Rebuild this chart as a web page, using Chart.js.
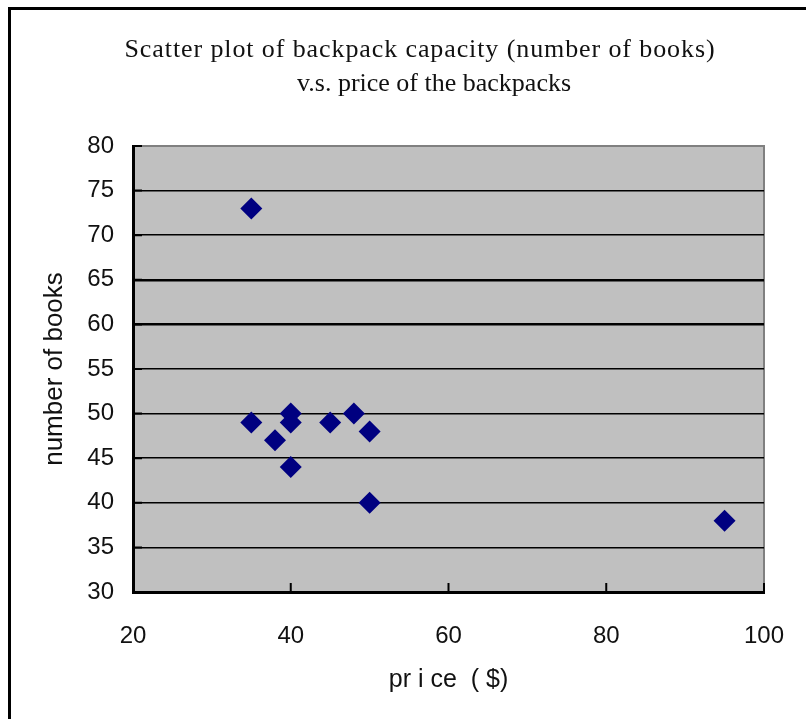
<!DOCTYPE html>
<html>
<head>
<meta charset="utf-8">
<script src="https://cdn.jsdelivr.net/npm/chart.js@4.4.1/dist/chart.umd.min.js"></script>
<style>
    html, body { margin: 0; padding: 0; background: #fff; overflow: hidden; }
    .frame {
        position: absolute; left: 8px; top: 7px; width: 900px; height: 800px;
        border-top: 3px solid #000; border-left: 3px solid #000;
    }
    #myChart { position: absolute; left: 0; top: 0; }
</style>
</head>
<body>
<div class="frame"></div>
<canvas id="myChart" width="806" height="719"></canvas>
<script>
// backpack data
const prices = [35, 35, 38, 40, 40, 40, 45, 48, 50, 50, 95];
const books = [73, 49, 47, 50, 49, 44, 49, 50, 48, 40, 38];

const xTicks = [20, 40, 60, 80, 100];
const yTicks = [30, 35, 40, 45, 50, 55, 60, 65, 70, 75, 80];

const titleLines = [
    'Scatter plot of backpack capacity (number of books)',
    'v.s. price of the backpacks'
];

const points = prices.map((p, i) => ({ x: p, y: books[i] }));

// grey plot background + grey top/right edge
const plotBackground = {
    id: 'plotBackground',
    beforeDraw(chart) {
        const { ctx, chartArea: a } = chart;
        ctx.save();
        ctx.fillStyle = '#c0c0c0';
        ctx.fillRect(a.left, a.top, a.right - a.left, a.bottom - a.top);
        ctx.strokeStyle = '#808080';
        ctx.lineWidth = 2;
        ctx.beginPath();
        ctx.moveTo(a.left, a.top);
        ctx.lineTo(a.right, a.top);
        ctx.lineTo(a.right, a.bottom);
        ctx.stroke();
        ctx.restore();
    }
};

// small tick marks pointing into the plot
const innerTicks = {
    id: 'innerTicks',
    afterDatasetsDraw(chart) {
        const { ctx, chartArea: a, scales } = chart;
        ctx.save();
        ctx.strokeStyle = '#000';
        ctx.lineWidth = 2;
        ctx.beginPath();
        xTicks.forEach(v => {
            const px = scales.x.getPixelForValue(v);
            ctx.moveTo(px, a.bottom);
            ctx.lineTo(px, a.bottom - 9);
        });
        yTicks.forEach(v => {
            const py = scales.y.getPixelForValue(v);
            ctx.moveTo(a.left, py);
            ctx.lineTo(a.left + 9, py);
        });
        ctx.stroke();
        ctx.restore();
    }
};

// two line serif title
const titleText = {
    id: 'titleText',
    afterDraw(chart) {
        const ctx = chart.ctx;
        ctx.save();
        ctx.fillStyle = '#111';
        ctx.font = '26px "Liberation Serif"';
        ctx.textAlign = 'center';
        ctx.textBaseline = 'alphabetic';
        ctx.letterSpacing = '0.9px';
        ctx.fillText(titleLines[0], 420, 57);
        ctx.letterSpacing = '0px';
        ctx.fillText(titleLines[1], 434, 91);
        ctx.restore();
    }
};

const ctx = document.getElementById('myChart').getContext('2d');
const myChart = new Chart(ctx, {
    type: 'scatter',
    data: {
        datasets: [{
            label: 'books',
            data: points,
            pointStyle: 'rectRot',
            pointRadius: 11,
            pointHoverRadius: 11,
            backgroundColor: '#000080',
            borderColor: '#000080',
            borderWidth: 0
        }]
    },
    options: {
        responsive: false,
        animation: false,
        devicePixelRatio: 1,
        layout: {
            padding: { left: 0, right: 42, top: 146, bottom: 0 }
        },
        scales: {
            x: {
                type: 'linear',
                min: 20,
                max: 100,
                afterBuildTicks: scale => {
                    scale.ticks = xTicks.map(v => ({ value: v }));
                },
                afterFit: scale => { scale.height = 127; },
                // invisible tick marks just push the labels down
                grid: {
                    display: true,
                    drawOnChartArea: false,
                    drawTicks: true,
                    tickLength: 26,
                    tickColor: 'rgba(0,0,0,0)'
                },
                border: { display: true, color: '#000', width: 3 },
                ticks: {
                    color: '#111',
                    padding: 4,
                    font: { family: '"Liberation Sans"', size: 24 }
                },
                title: {
                    display: true,
                    text: 'pr i ce  ( $)',
                    color: '#111',
                    padding: { top: 0, bottom: 24 },
                    font: { family: '"Liberation Sans"', size: 25 }
                }
            },
            y: {
                min: 30,
                max: 80,
                afterBuildTicks: scale => {
                    scale.ticks = yTicks.map(v => ({ value: v }));
                },
                afterFit: scale => { scale.width = 133; },
                grid: {
                    drawTicks: false,
                    color: c => (c.tick && c.tick.value === 80) ? 'rgba(0,0,0,0)' : '#000',
                    lineWidth: c => (c.tick && (c.tick.value === 60 || c.tick.value === 65)) ? 2.5 : 1.5
                },
                border: { display: true, color: '#000', width: 3 },
                ticks: {
                    color: '#111',
                    padding: 19,
                    font: { family: '"Liberation Sans"', size: 24 }
                },
                title: {
                    display: true,
                    text: 'number of books',
                    color: '#111',
                    padding: { top: 39, bottom: 0 },
                    font: { family: '"Liberation Sans"', size: 26 }
                }
            }
        },
        plugins: {
            legend: { display: false },
            title: { display: false },
            tooltip: { enabled: false }
        }
    },
    plugins: [plotBackground, innerTicks, titleText]
});
</script>
</body>
</html>
